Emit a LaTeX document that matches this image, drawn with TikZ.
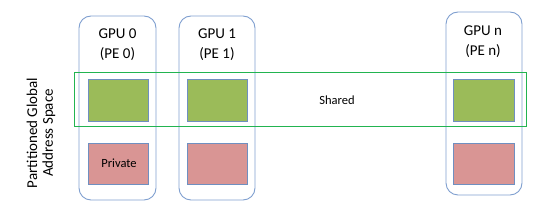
\documentclass[tikz,border=0pt]{standalone}
\usepackage{fontspec}
\setmainfont{Carlito}
\definecolor{colblue}{HTML}{7F9FCF}
\definecolor{boxblue}{HTML}{6F8FC0}
\definecolor{greenfill}{HTML}{9BBB59}
\definecolor{redfill}{HTML}{D99594}
\definecolor{bandgreen}{HTML}{22B450}
\begin{document}
\begin{tikzpicture}[x=1pt,y=-1pt,
  column/.style={draw=colblue, line width=0.9pt, rounded corners=12pt},
  membox/.style={draw=boxblue, line width=0.8pt},
  shared/.style={membox, fill=greenfill},
  private/.style={membox, fill=redfill},
  band/.style={draw=bandgreen, line width=0.9pt},
  title/.style={font=\fontsize{15}{20}\selectfont, align=center, inner sep=0pt},
  side/.style={font=\fontsize{15}{16}\selectfont, align=center, inner sep=0pt},
  small/.style={font=\fontsize{12.5}{14}\selectfont, inner sep=0pt}]
\useasboundingbox (0,0) rectangle (541,213);
% columns
\draw[column] (79,16) rectangle (156,200);
\draw[column] (179,16) rectangle (255,200);
\draw[column] (446,12) rectangle (522,195);
% memory boxes
\draw[shared] (88,79) rectangle (148,121);
\draw[shared] (187,79) rectangle (247,121);
\draw[shared] (453,79) rectangle (514,121);
\draw[private] (88,143) rectangle (148,184);
\draw[private] (187,143) rectangle (247,184);
\draw[private] (453,143) rectangle (514,184);
% band
\draw[band] (74,72) rectangle (526,126);
% texts
\node[title] (g0) at (117.5,45) {GPU 0\\(PE 0)};
\node[title] (g1) at (217,45) {GPU 1\\(PE 1)};
\node[title] (gn) at (483,42) {GPU n\\(PE n)};
\node[small] (sh) at (337,100) {Shared};
\node[small] (pr) at (119,163) {Private};
\node[side, rotate=90] (pgas) at (41,133) {Partitioned Global\\Address Space};
\end{tikzpicture}
\end{document}
